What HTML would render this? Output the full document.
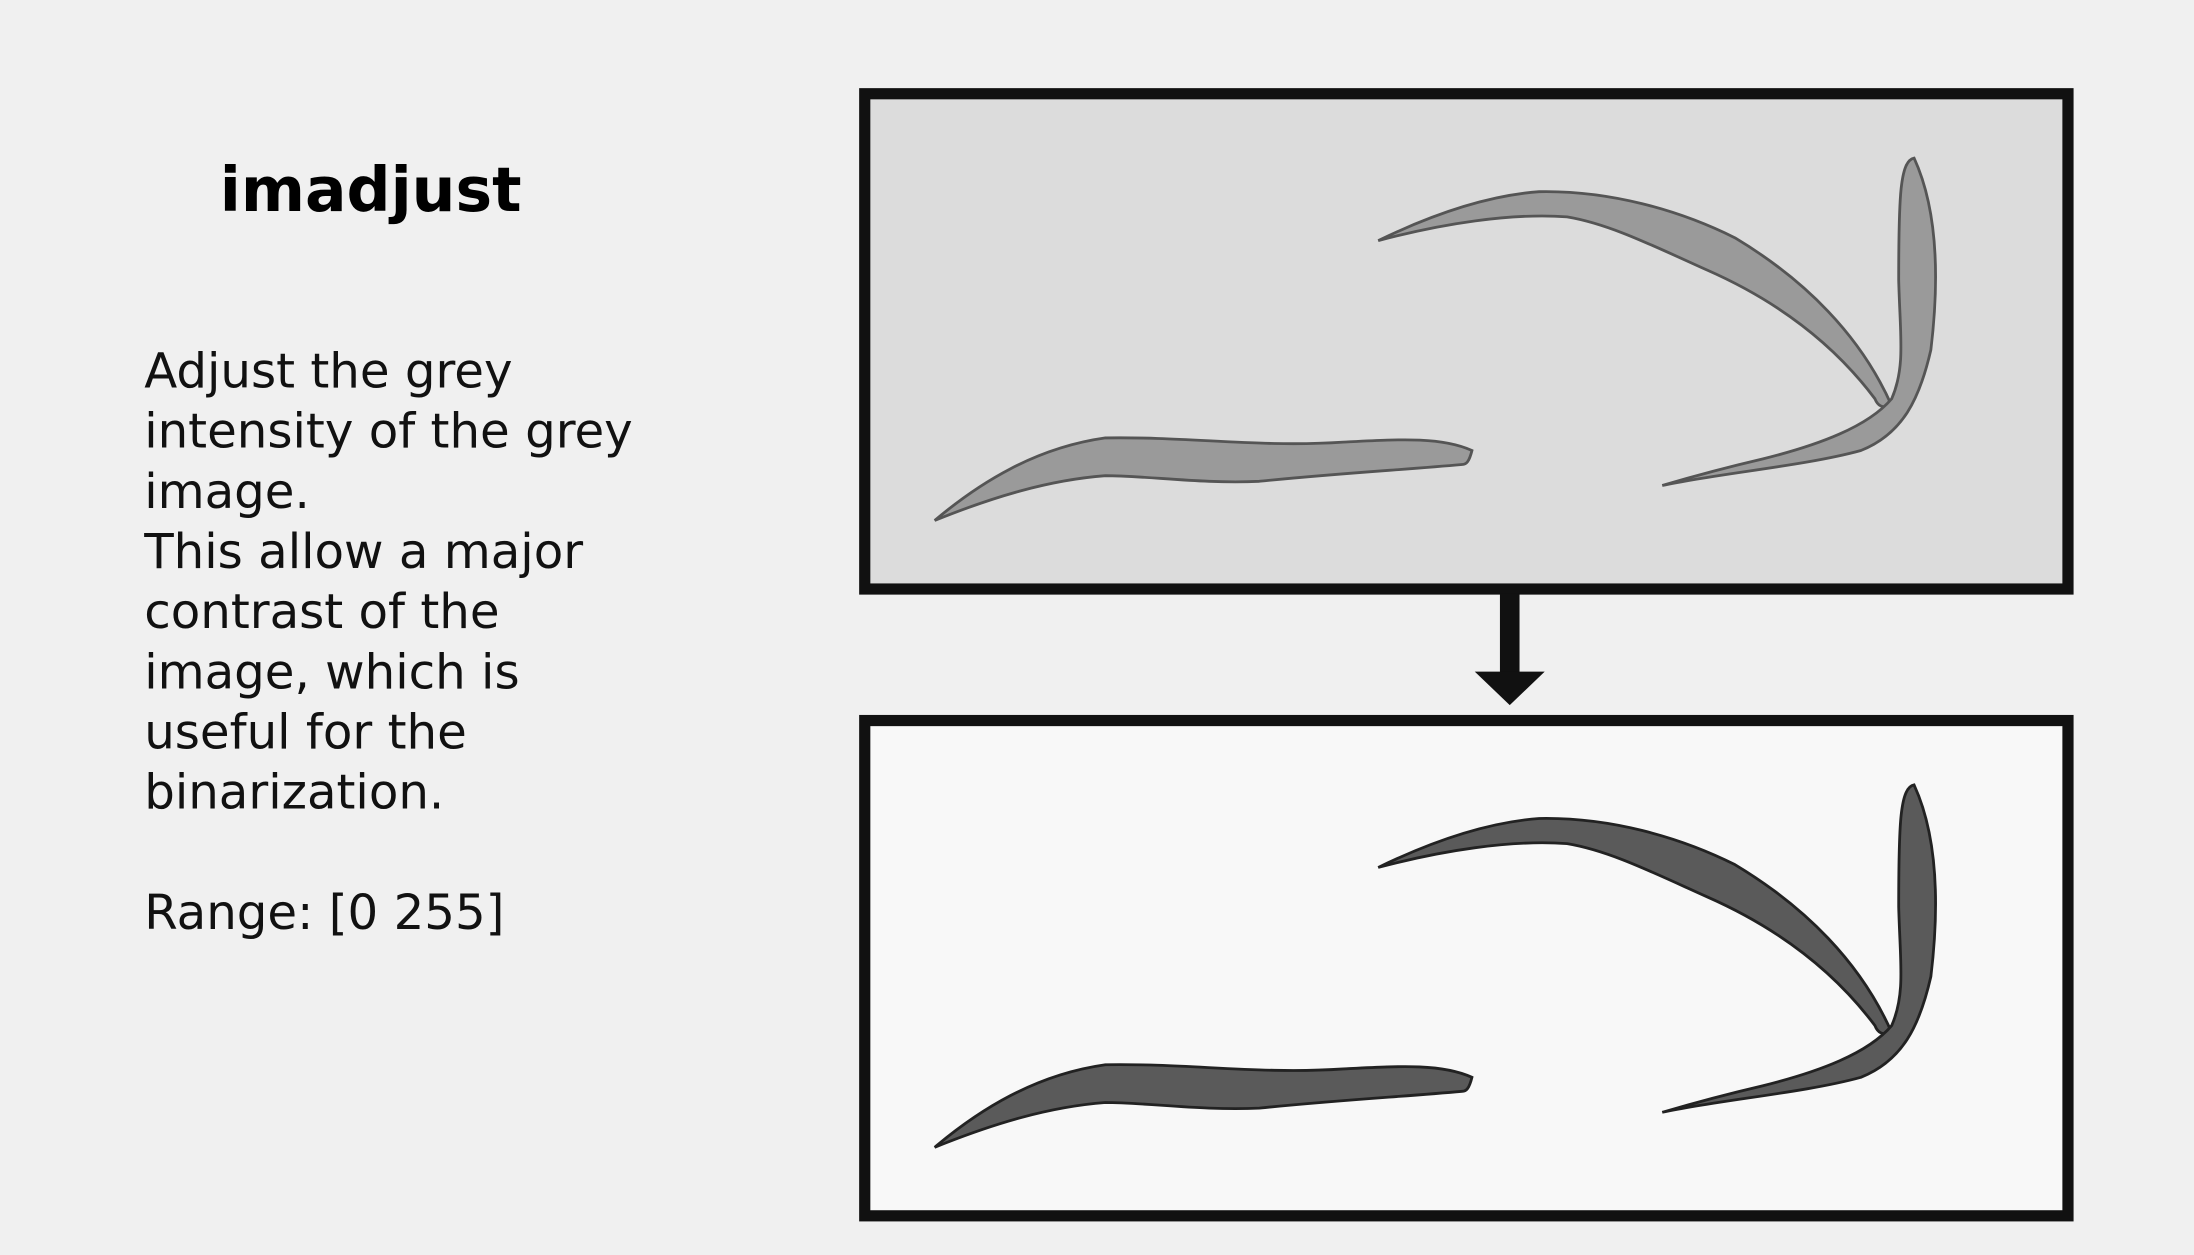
<!DOCTYPE html>
<html><head><meta charset="utf-8"><style>
html,body{margin:0;padding:0;background:#f0f0f0;}
svg{display:block;}
</style></head><body>
<svg width="2194" height="1255" viewBox="0 0 1568 897" xmlns="http://www.w3.org/2000/svg">
<rect width="1568" height="897" fill="#f0f0f0"/>
<text x="157" y="151" font-family="DejaVu Sans, Liberation Sans, sans-serif" font-weight="bold" font-size="44" fill="#000">imadjust</text>
<g font-family="DejaVu Sans, Liberation Sans, sans-serif" font-size="34.5" fill="#111">
<text x="103" y="277">Adjust the grey</text>
<text x="103" y="320">intensity of the grey</text>
<text x="103" y="363">image.</text>
<text x="103" y="406">This allow a major</text>
<text x="103" y="449">contrast of the</text>
<text x="103" y="492">image, which is</text>
<text x="103" y="535">useful for the</text>
<text x="103" y="578">binarization.</text>
<text x="103" y="664">Range: [0 255]</text>
</g>
<defs>
<g id="worms">
<path d="M668,372 C700,345 740,320 790,313 C850,312 900,320 960,316 C1000,314 1030,312 1052,322 C1050,330 1048,332 1045,332 C1000,336 960,338 900,344 C860,346 820,340 790,340 C750,343 710,355 668,372 Z"/>
<path d="M985,172 C1020,155 1060,140 1100,137 C1150,136 1200,150 1240,170 C1290,200 1330,240 1352,290 C1345,292 1342,290 1340,285 C1310,245 1270,215 1220,193 C1180,175 1150,160 1120,155 C1080,152 1030,160 985,172 Z"/>
<path d="M1188,347 C1230,338 1290,333 1330,322 C1360,310 1372,285 1380,250 C1386,200 1385,150 1368,113 C1358,115 1357,140 1357,200 C1358,240 1362,262 1352,285 C1335,305 1300,318 1260,328 C1230,335 1205,342 1188,347 Z"/>
</g>
</defs>
<g>
<rect x="618" y="67" width="860" height="354" fill="#dcdcdc" stroke="#111" stroke-width="8"/>
<use href="#worms" fill="#9a9a9a" stroke="#555" stroke-width="2"/>
</g>
<g>
<rect x="1072" y="424" width="14" height="57" fill="#111"/>
<polygon points="1054,480 1104,480 1079,504" fill="#111"/>
</g>
<g>
<rect x="618" y="515" width="860" height="354" fill="#f8f8f8" stroke="#111" stroke-width="8"/>
<use href="#worms" transform="translate(0,448)" fill="#5a5a5a" stroke="#222" stroke-width="2"/>
</g>
</svg>
</body></html>
